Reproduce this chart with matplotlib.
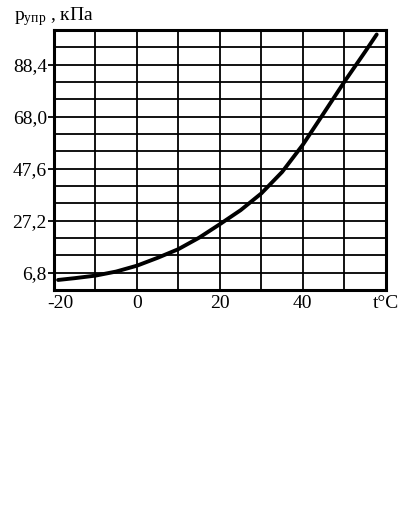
"""
Saturated vapour pressure vs temperature (reference chart recreation).
"""

import matplotlib.pyplot as plt
import matplotlib.transforms as mtransforms
import numpy as np

# curve
temp_c = [-19, -15, -10, -5, 0, 5, 10, 15, 20, 25, 30, 35, 40, 45, 50, 55, 57.8]
pressure_kpa = [3.9, 4.6, 5.6, 7.2, 9.5, 12.6, 16.0, 20.5, 25.8, 31.3, 37.9,
                46.3, 57.0, 69.3, 81.7, 93.5, 100.3]

y_labels = ["6,8", "27,2", "47,6", "68,0", "88,4"]
y_label_values = [6.8, 27.2, 47.6, 68.0, 88.4]
x_labels = ["-20", "0", "20", "40", "t°C"]
x_label_values = [-20, 0, 20, 40, 60]

plt.rcParams["font.family"] = ["Liberation Serif", "DejaVu Serif"]
plt.rcParams["mathtext.fontset"] = "custom"
plt.rcParams["mathtext.rm"] = "Liberation Serif"


def main() -> None:
    fig = plt.figure(figsize=(4.18, 5.29), dpi=100)
    ax = fig.add_axes([0.129, 0.452, 0.794, 0.491])

    ax.set_xlim(-20, 60)
    ax.set_ylim(0, 102)

    ax.set_xticks(x_label_values)
    ax.set_xticklabels(x_labels)
    ax.set_xticks(np.arange(-10, 60, 20), minor=True)
    ax.set_yticks(y_label_values)
    ax.set_yticklabels(y_labels)
    ax.set_yticks([6.8 * k for k in range(1, 15)], minor=True)

    ax.tick_params(axis="x", which="both", length=0, labelsize=14, pad=4)
    ax.tick_params(axis="y", which="major", length=4, width=1.3,
                   labelsize=14, pad=1)
    ax.tick_params(axis="y", which="minor", length=0)

    # "-20" sits a bit right of its gridline in the original
    shift = mtransforms.ScaledTranslation(6 / 100, 0, fig.dpi_scale_trans)
    first = ax.get_xticklabels()[0]
    first.set_transform(first.get_transform() + shift)

    ax.grid(True, which="both", color="black", linewidth=1.3)
    ax.set_axisbelow(True)
    for sp in ax.spines.values():
        sp.set_linewidth(2.2)

    ax.plot(temp_c, pressure_kpa, color="black", linewidth=2.8,
            solid_capstyle="round")

    fig.text(0.033, 0.968, r"$\mathregular{p_{упр}}$ , кПа", fontsize=14,
             ha="left", va="center")

    fig.savefig("out.png", dpi=100)
    plt.close(fig)


if __name__ == "__main__":
    main()
